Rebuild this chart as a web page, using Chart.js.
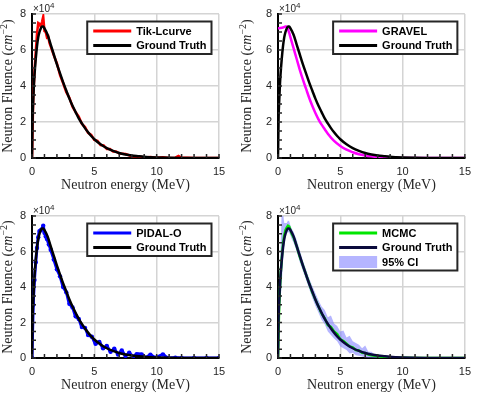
<!DOCTYPE html>
<html>
<head>
<meta charset="utf-8">
<script src="https://cdn.jsdelivr.net/npm/chart.js@4.4.1/dist/chart.umd.min.js"></script>
<style>
  body { margin: 0; background: #fff; }
  #wrap { position: relative; width: 478px; height: 394px; }
  canvas { position: absolute; }
</style>
</head>
<body>
<div id="wrap">
  <canvas id="tik" width="239" height="197" style="left:0;top:0"></canvas>
  <canvas id="gravel" width="239" height="197" style="left:239px;top:0"></canvas>
  <canvas id="pidal" width="239" height="197" style="left:0;top:197px"></canvas>
  <canvas id="mcmc" width="239" height="197" style="left:239px;top:197px"></canvas>
</div>
<script>
// fluence values are in units of 10^4 cm^-2, energy in MeV
var energyTruth = [0,0.05,0.1,0.15,0.2,0.3,0.4,0.5,0.6,0.7,0.8,0.9,1.0,1.25,1.5,1.75,2,2.25,2.5,2.75,3,3.25,3.5,3.75,4,4.25,4.5,4.75,5,5.5,6,6.5,7,7.5,8,8.5,9,9.5,10,11,12,13,14,15];
var fluenceTruth = [0,2.3,3.2,4.0,4.6,5.5,6.2,6.7,7.0,7.2,7.3,7.3,7.2,6.85,6.3,5.75,5.2,4.7,4.2,3.75,3.3,2.9,2.55,2.2,1.92,1.66,1.43,1.22,1.04,0.76,0.55,0.4,0.28,0.2,0.14,0.1,0.065,0.045,0.03,0.013,0.006,0.003,0.001,0];

var energyTik = [0,0.1,0.2,0.3,0.4,0.5,0.6,0.7,0.8,0.9,1.0,1.1,1.2,1.3,1.4,1.5,1.75,2,2.25,2.5,2.75,3,3.25,3.5,3.75,4,4.25,4.5,4.75,5,5.25,5.5,5.75,6,6.25,6.5,6.75,7,7.5,8,8.5,9,9.5,10,10.5,11,11.5,11.75,12,12.5,13,14,15];
var fluenceTik = [0,3.4,4.8,5.9,6.9,7.5,7.45,7.3,7.55,7.85,7.05,7.0,6.7,6.75,6.4,6.2,5.7,5.25,4.6,4.15,3.65,3.35,2.85,2.55,2.3,1.9,1.72,1.4,1.28,1.0,0.95,0.72,0.7,0.5,0.5,0.36,0.36,0.25,0.22,0.1,0.1,0.03,0.06,0.02,0.04,0.0,0.02,0.12,0.01,0.02,0.0,0.0,0.0];

var energyGravel = [0,0.2,0.4,0.6,0.7,0.8,0.9,1.0,1.25,1.5,1.75,2.0,2.25,2.5,2.75,3.0,3.25,3.5,3.75,4.0,4.5,5,5.5,6,6.5,7,7.5,8,8.5,9,10,11,12,13,14,15];
var fluenceGravel = [7.2,7.22,7.25,7.3,7.3,7.15,6.95,6.7,6.1,5.5,4.9,4.35,3.85,3.35,2.9,2.5,2.15,1.85,1.6,1.35,0.95,0.67,0.46,0.32,0.21,0.14,0.09,0.05,0.03,0.015,0.005,0.002,0,0,0,0];

var energyPidal = [0,0.1,0.2,0.3,0.4,0.5,0.6,0.7,0.8,0.9,1.0,1.1,1.2,1.35,1.5,1.75,2,2.25,2.5,2.75,3,3.25,3.5,3.75,4,4.25,4.5,4.8,5.1,5.4,5.7,6.0,6.3,6.6,6.9,7.2,7.5,7.8,8.1,8.4,8.8,9.1,9.5,9.9,10.5,10.9,11.5,12,13,14,15];
var fluencePidal = [0,3.0,4.4,5.4,6.2,6.8,7.15,7.2,7.25,7.45,7.05,6.85,6.7,6.4,6.1,5.55,5.0,4.6,4.0,3.7,3.05,2.85,2.35,2.2,1.75,1.7,1.3,1.2,0.8,0.9,0.55,0.68,0.35,0.52,0.2,0.42,0.12,0.3,0.08,0.22,0.2,0.02,0.18,0.02,0.2,0.0,0.02,0.0,0.0,0.0,0];

var energyMcmc = [0,0.1,0.2,0.3,0.4,0.5,0.6,0.7,0.8,0.9,1.0,1.1,1.25,1.5,1.75,2,2.25,2.5,2.75,3,3.25,3.5,3.75,4,4.25,4.5,4.75,5,5.25,5.5,5.75,6,6.25,6.5,6.75,7,7.25,7.5,7.75,8,8.5,9,9.5,10,11,12,13,14,15];
var fluenceMcmc = [0,3.1,4.6,5.6,6.4,6.9,7.2,7.35,7.45,7.4,7.2,7.0,6.8,6.3,5.7,5.2,4.7,4.2,3.7,3.3,2.9,2.5,2.25,1.85,1.75,1.5,1.35,1.05,0.95,0.8,0.65,0.6,0.45,0.42,0.3,0.28,0.2,0.15,0.12,0.1,0.06,0.04,0.02,0.01,0,0,0,0,0];
var ciUpper = [0,4.0,6.0,8.4,8.2,7.6,7.6,7.6,7.75,7.7,7.45,7.3,7.1,6.65,6.05,5.5,5.0,4.5,4.05,3.65,3.25,2.9,2.7,2.3,2.4,1.95,1.8,1.5,1.55,1.15,1.25,0.95,0.85,0.75,0.55,0.7,0.35,0.35,0.2,0.2,0.15,0.1,0.05,0.03,0.01,0,0,0,0];
var ciLower = [0,2.2,3.2,4.2,5.4,6.2,6.8,7.0,7.1,7.05,6.9,6.7,6.5,6.0,5.4,4.9,4.4,3.9,3.4,2.95,2.55,2.15,1.9,1.5,1.3,1.1,0.95,0.65,0.55,0.45,0.25,0.3,0.15,0.12,0.08,0.03,0.02,0.01,0,0,0,0,0,0,0,0,0,0,0];

var xMajor = [0, 5, 10, 15];
var yMajor = [0, 2, 4, 6, 8];

Chart.defaults.font.family = '"Liberation Sans", Arial, sans-serif';
Chart.defaults.font.size = 11;
Chart.defaults.color = '#262626';

function pts(xs, ys) {
  return xs.map(function(x, i) { return { x: x, y: ys[i] }; });
}

// inside ticks, boxed legend, axis titles and the x10^4 exponent
var matlabLook = {
  id: 'matlabLook',
  afterDatasetsDraw: function(chart) {
    var ctx = chart.ctx, a = chart.chartArea;
    var sx = chart.scales.x, sy = chart.scales.y;
    ctx.save();
    ctx.strokeStyle = '#262626';
    ctx.lineWidth = 1.5;
    ctx.beginPath();
    sx.ticks.forEach(function(t) {
      var px = sx.getPixelForValue(t.value);
      ctx.moveTo(px, a.bottom); ctx.lineTo(px, a.bottom - 4);
    });
    sy.ticks.forEach(function(t) {
      var py = sy.getPixelForValue(t.value);
      ctx.moveTo(a.left, py); ctx.lineTo(a.left + 4, py);
    });
    ctx.stroke();

    // legend
    var items = chart.data.datasets.filter(function(d) { return d.label; });
    ctx.font = 'bold 11px "Liberation Sans", Arial, sans-serif';
    var tw = 0;
    items.forEach(function(d) { tw = Math.max(tw, ctx.measureText(d.label).width); });
    var w = 6 + 38 + 5 + tw + 5, h = 18 + 14.5 * (items.length - 1);
    var x0 = a.right - 7.5 - w, y0 = a.top + 7.5;
    ctx.fillStyle = '#fff';
    ctx.fillRect(x0, y0, w, h);
    ctx.lineWidth = 2;
    ctx.strokeStyle = '#262626';
    ctx.strokeRect(x0, y0, w, h);
    items.forEach(function(d, i) {
      var cy = y0 + 9.5 + 14.5 * i;
      if (d.fill) {
        ctx.fillStyle = d.backgroundColor;
        ctx.fillRect(x0 + 6, cy - 6, 38, 12);
      } else {
        ctx.strokeStyle = d.borderColor;
        ctx.lineWidth = 3;
        ctx.beginPath();
        ctx.moveTo(x0 + 6, cy); ctx.lineTo(x0 + 44, cy);
        ctx.stroke();
      }
      ctx.fillStyle = '#000';
      ctx.textBaseline = 'middle';
      ctx.textAlign = 'left';
      ctx.fillText(d.label, x0 + 49, cy + 0.5);
    });

    // exponent label
    ctx.fillStyle = '#262626';
    ctx.textBaseline = 'alphabetic';
    ctx.font = '10px "Liberation Sans", Arial, sans-serif';
    ctx.fillText('\u00d710', a.left + 1, a.top - 2);
    var ew = ctx.measureText('\u00d710').width;
    ctx.font = '8px "Liberation Sans", Arial, sans-serif';
    ctx.fillText('4', a.left + 1 + ew, a.top - 6);

    // axis titles
    var serif = '"Liberation Serif", "Times New Roman", serif';
    ctx.fillStyle = '#262626';
    ctx.font = '14px ' + serif;
    ctx.textAlign = 'center';
    ctx.textBaseline = 'middle';
    ctx.fillText('Neutron energy (MeV)', (a.left + a.right) / 2, a.bottom + 27);

    var parts = [
      { t: 'Neutron Fluence (', f: '14px ' + serif, dy: 0 },
      { t: 'cm', f: 'italic 14px ' + serif, dy: 0 },
      { t: '\u22122', f: '10px ' + serif, dy: -4 },
      { t: ')', f: '14px ' + serif, dy: 0 }
    ];
    var total = 0;
    parts.forEach(function(p) { ctx.font = p.f; p.w = ctx.measureText(p.t).width; total += p.w; });
    ctx.translate(8.5, (a.top + a.bottom) / 2);
    ctx.rotate(-Math.PI / 2);
    ctx.textAlign = 'left';
    var cx = -total / 2;
    parts.forEach(function(p) {
      ctx.font = p.f;
      ctx.fillText(p.t, cx, p.dy);
      cx += p.w;
    });
    ctx.restore();
  }
};

function makeChart(id, datasets, box) {
  var gridColor = function(list) {
    return function(c) {
      return c.tick && list.indexOf(c.tick.value) >= 0 ? '#d4d4d4' : 'rgba(0,0,0,0)';
    };
  };
  return new Chart(document.getElementById(id), {
    type: 'line',
    data: { datasets: datasets },
    options: {
      responsive: false,
      animation: false,
      events: [],
      layout: { padding: { top: box.top, right: 239 - box.right, left: 0, bottom: 0 } },
      plugins: { legend: { display: false }, tooltip: { enabled: false } },
      elements: { point: { radius: 0 } },
      scales: {
        x: {
          type: 'linear', min: 0, max: 15,
          afterFit: function(s) { s.height = 197 - box.bottom; },
          ticks: {
            stepSize: 1, autoSkip: false, maxRotation: 0, padding: 7,
            callback: function(v) { return xMajor.indexOf(v) >= 0 ? String(v) : ''; }
          },
          grid: { color: gridColor(xMajor), lineWidth: 1.5, drawTicks: false },
          border: { color: '#000', width: 2 }
        },
        y: {
          type: 'linear', min: 0, max: 8,
          afterFit: function(s) { s.width = box.left; },
          ticks: {
            stepSize: 0.5, autoSkip: false, padding: 6,
            callback: function(v) { return yMajor.indexOf(v) >= 0 ? String(v) : ''; }
          },
          grid: { color: gridColor(yMajor), lineWidth: 1.5, drawTicks: false },
          border: { color: '#000', width: 2 }
        }
      }
    },
    plugins: [matlabLook]
  });
}

function truthSet(color) {
  return { label: 'Ground Truth', data: pts(energyTruth, fluenceTruth), borderColor: color,
           borderWidth: 2.5, cubicInterpolationMode: 'monotone', fill: false, order: 0 };
}

makeChart('tik', [
  { label: 'Tik-Lcurve', data: pts(energyTik, fluenceTik), borderColor: '#ff0000', borderWidth: 2.5, fill: false, order: 1 },
  truthSet('#000000')
], { left: 32, right: 219, top: 14, bottom: 158 });

makeChart('gravel', [
  { label: 'GRAVEL', data: pts(energyGravel, fluenceGravel), borderColor: '#ff00ff', borderWidth: 2.5,
    cubicInterpolationMode: 'monotone', fill: false, order: 1 },
  truthSet('#000000')
], { left: 39, right: 227, top: 14, bottom: 158 });

makeChart('pidal', [
  { label: 'PIDAL-O', data: pts(energyPidal, fluencePidal), borderColor: '#0000ff', borderWidth: 3,
    tension: 0.3, pointRadius: 2.2, pointBackgroundColor: '#0000ff', pointBorderWidth: 0, fill: false, order: 1 },
  truthSet('#000000')
], { left: 32, right: 219, top: 19, bottom: 161 });

makeChart('mcmc', [
  { label: 'MCMC', data: pts(energyMcmc, fluenceMcmc), borderColor: '#00e600', borderWidth: 2.5, fill: false, order: 1 },
  truthSet('#0a0a3c'),
  { label: '95% CI', data: pts(energyMcmc, ciUpper), borderWidth: 0, borderColor: 'rgba(0,0,0,0)',
    backgroundColor: 'rgba(120,120,255,0.55)', fill: '+1', order: 2 },
  { data: pts(energyMcmc, ciLower), borderWidth: 0, borderColor: 'rgba(0,0,0,0)', fill: false, order: 3 }
], { left: 39, right: 227, top: 19, bottom: 161 });
</script>
</body>
</html>
